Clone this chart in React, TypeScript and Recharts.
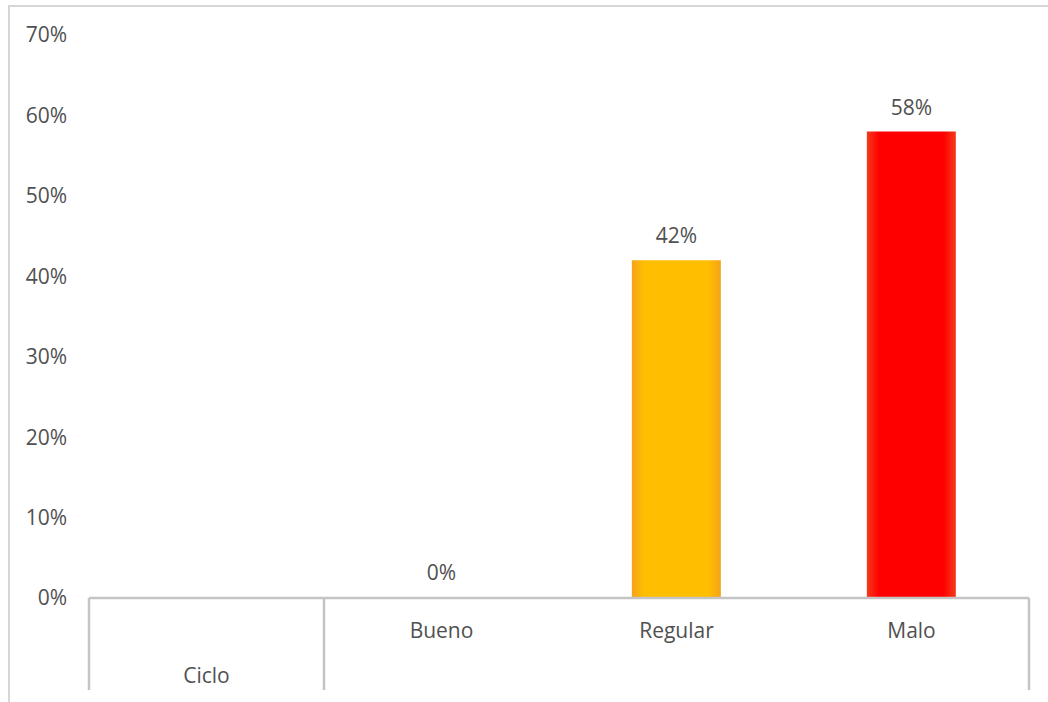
import React from "react";
import { BarChart, Bar, XAxis, YAxis, Cell, LabelList } from "recharts";

// categories of the lower axis level; the first slot belongs to the "Ciclo" group header
const categories = ["", "Bueno", "Regular", "Malo"];
const groupLabel = "Ciclo";
const values: (number | null)[] = [null, 0, 42, 58];
const yTicks = [0, 10, 20, 30, 40, 50, 60, 70];

const data = categories.map((name, i) => ({ name, value: values[i] }));

const W = 1038;
const H = 695;
const MARGIN = { top: 28, right: 19, bottom: 12, left: 19 };
const Y_AXIS_W = 60;
const X_AXIS_H = 92;
const PLOT_W = W - MARGIN.left - MARGIN.right - Y_AXIS_W;
const SLOT = PLOT_W / categories.length;

const FONT = "'Open Sans', sans-serif";
const FONT_SIZE = 21;
const TEXT = "#505050";
const LINE = "#c4c4c4";

const fillFor = (name: string, v: number | null) =>
  !v ? "transparent" : name === "Malo" ? "url(#gradRed)" : "url(#gradOrange)";

function CategoryTick(props: any) {
  const { x, y, payload, index } = props;
  const left = x - SLOT / 2;
  const right = x + SLOT / 2;
  const last = index === categories.length - 1;
  const top = y - 8;
  const bottom = top + X_AXIS_H;
  return (
    <g>
      {index === 0 && <line x1={left} y1={top} x2={left} y2={bottom} stroke={LINE} strokeWidth={2.5} />}
      {(index === 0 || last) && (
        <line x1={right} y1={top} x2={right} y2={bottom} stroke={LINE} strokeWidth={2.5} />
      )}
      <text x={x} y={y + 32} textAnchor="middle" fill={TEXT} fontSize={FONT_SIZE} fontFamily={FONT}>
        {payload.value}
      </text>
      {index === 0 && (
        <text x={x} y={y + 77} textAnchor="middle" fill={TEXT} fontSize={FONT_SIZE} fontFamily={FONT}>
          {groupLabel}
        </text>
      )}
    </g>
  );
}

export default function App() {
  return (
    <div
      style={{
        position: "absolute",
        left: 8,
        top: 5,
        width: W,
        height: H,
        borderTop: "2px solid #d6d6d6",
        borderLeft: "2px solid #d6d6d6",
        background: "#fff",
      }}
    >
      <BarChart width={W} height={H} data={data} margin={MARGIN} barCategoryGap="31%">
        <defs>
          <linearGradient id="gradOrange" x1="0" y1="0" x2="1" y2="0">
            <stop offset="0%" stopColor="#f5a21a" />
            <stop offset="14%" stopColor="#ffbf00" />
            <stop offset="86%" stopColor="#ffbf00" />
            <stop offset="100%" stopColor="#f5a21a" />
          </linearGradient>
          <linearGradient id="gradRed" x1="0" y1="0" x2="1" y2="0">
            <stop offset="0%" stopColor="#f43a1c" />
            <stop offset="14%" stopColor="#ff0000" />
            <stop offset="86%" stopColor="#ff0000" />
            <stop offset="100%" stopColor="#f43a1c" />
          </linearGradient>
        </defs>
        <XAxis
          dataKey="name"
          interval={0}
          height={X_AXIS_H}
          axisLine={{ stroke: LINE, strokeWidth: 2.5 }}
          tickLine={false}
          tick={<CategoryTick />}
        />
        <YAxis
          width={Y_AXIS_W}
          domain={[0, 70]}
          ticks={yTicks}
          axisLine={false}
          tickLine={false}
          tickMargin={16}
          tickFormatter={(v: number) => `${v}%`}
          tick={{ fill: TEXT, fontSize: FONT_SIZE, fontFamily: FONT }}
        />
        <Bar dataKey="value" isAnimationActive={false} minPointSize={(v: any) => (v === 0 ? 1 : 0)}>
          {data.map((d, i) => (
            <Cell key={i} fill={fillFor(d.name, d.value)} />
          ))}
          <LabelList
            dataKey="value"
            position="top"
            offset={17}
            formatter={(v: any) => (v === null || v === undefined ? "" : `${v}%`)}
            style={{ fill: TEXT, fontSize: FONT_SIZE, fontFamily: FONT }}
          />
        </Bar>
      </BarChart>
    </div>
  );
}
